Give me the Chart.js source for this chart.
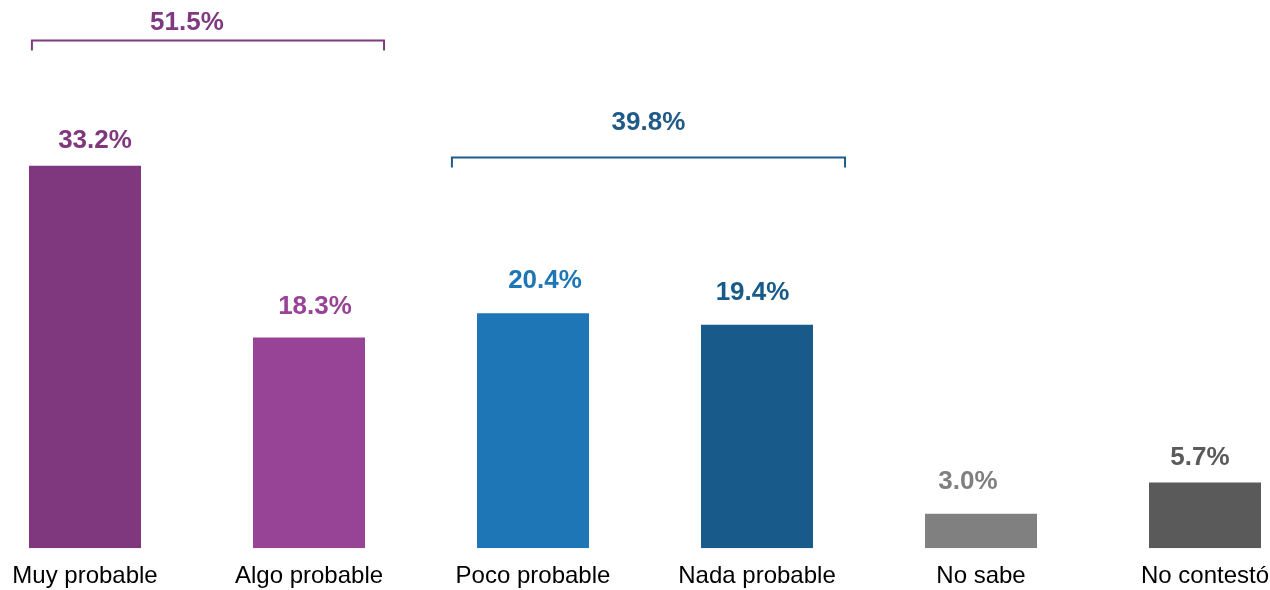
<!DOCTYPE html>
<html>
<head>
<meta charset="utf-8">
<script src="https://cdn.jsdelivr.net/npm/chart.js@4/dist/chart.umd.min.js"></script>
<style>
  html, body { margin: 0; padding: 0; background: #fff; overflow: hidden; }
  #wrap { position: absolute; left: -27px; top: 0; width: 1344px; height: 605px; }
</style>
</head>
<body>
<div id="wrap"><canvas id="c" width="1344" height="605"></canvas></div>
<script>
const categories = ["Muy probable", "Algo probable", "Poco probable", "Nada probable", "No sabe", "No contestó"];
const values = [33.2, 18.3, 20.4, 19.4, 3.0, 5.7];
const barColors = ["#7F387E", "#984496", "#1F76B6", "#185A8A", "#808080", "#5A5A5A"];
const groupLabels = ["51.5%", "39.8%"];
const groupValues = [51.5, 39.8];
const groupColors = ["#7F3A80", "#1F5A88"];

const annot = {
  id: 'annot',
  afterDatasetsDraw(chart) {
    const ctx = chart.ctx;
    const xs = chart.scales.x, ys = chart.scales.y;
    const x0 = xs.getPixelForValue(0), step = xs.getPixelForValue(1) - x0;
    const xAt = v => x0 + v * step;
    // label placement tweaks (pixels)
    const labelDx = [10, 6, 12, -4.5, -13, -5];
    const labelDy = [25, 30.5, 32, 32, 32, 25];
    ctx.save();
    ctx.font = "bold 26px 'Liberation Sans', Arial, sans-serif";
    ctx.textAlign = 'center';
    ctx.textBaseline = 'middle';
    const meta = chart.getDatasetMeta(0);
    meta.data.forEach((bar, i) => {
      ctx.fillStyle = barColors[i];
      ctx.fillText(values[i].toFixed(1) + '%', bar.x + labelDx[i], bar.y - labelDy[i]);
    });
    const brackets = [
      { from: -0.237, to: 1.335, y: 44.1, labelY: 45.65, dx: -21 },
      { from: 1.638, to: 3.393, y: 34.0, labelY: 36.96, dx: 0 }
    ];
    brackets.forEach((b, i) => {
      const xl = xAt(b.from), xr = xAt(b.to), yp = Math.round(ys.getPixelForValue(b.y)) + 0.5;
      ctx.strokeStyle = groupColors[i];
      ctx.lineWidth = 2;
      ctx.beginPath();
      ctx.moveTo(xl, yp + 10);
      ctx.lineTo(xl, yp);
      ctx.lineTo(xr, yp);
      ctx.lineTo(xr, yp + 10);
      ctx.stroke();
      ctx.fillStyle = groupColors[i];
      ctx.fillText(groupValues[i].toFixed(1) + '%', (xl + xr) / 2 + b.dx, ys.getPixelForValue(b.labelY));
    });
    ctx.restore();
  }
};

new Chart(document.getElementById('c'), {
  type: 'bar',
  data: {
    labels: categories,
    datasets: [{
      data: values,
      backgroundColor: barColors,
      borderWidth: 0,
      barPercentage: 0.5,
      categoryPercentage: 1.0
    }]
  },
  options: {
    responsive: false,
    animation: false,
    layout: { padding: 0 },
    plugins: { legend: { display: false }, tooltip: { enabled: false } },
    scales: {
      x: {
        grid: { display: false, drawTicks: false },
        border: { display: false },
        ticks: {
          color: '#000',
          padding: 14,
          font: { family: "'Liberation Sans', Arial, sans-serif", size: 24 }
        }
      },
      y: {
        display: false,
        min: 0,
        max: 47.6
      }
    }
  },
  plugins: [annot]
});
</script>
</body>
</html>
